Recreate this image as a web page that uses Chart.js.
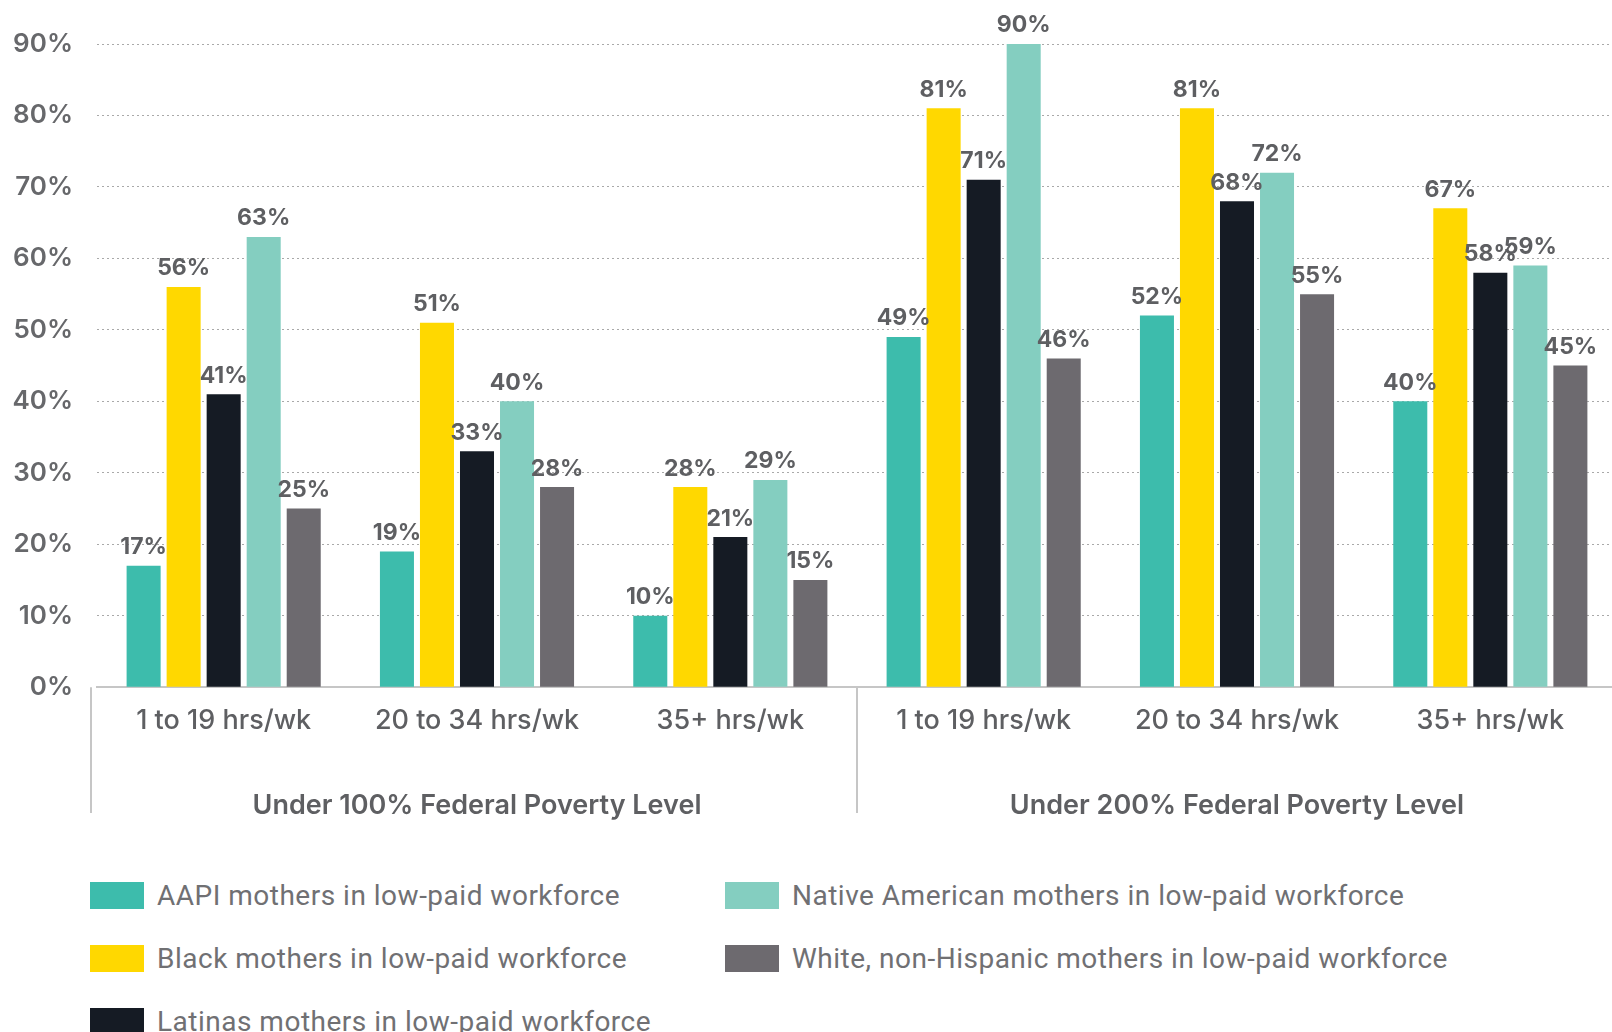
<!DOCTYPE html>
<html lang="en">
<head>
    <meta charset="UTF-8">
    <title>Low-paid mothers by poverty level</title>
    <script src="https://cdn.jsdelivr.net/npm/chart.js"></script>
    <style>
        html, body{
            margin:0;
            padding:0;
            background:#fff;
            overflow:hidden;
        }
        #wrap{
            position:relative;
            width:1612px;
            height:1032px;
        }
        #myChart{
            position:absolute;
            left:0;
            top:0;
        }
        #legend{
            position:absolute;
            left:90px;
            top:876px;
            display:grid;
            grid-template-columns:635px 800px;
            grid-auto-flow:column;
            grid-template-rows:repeat(3, 63px);
            font-family:Roboto, sans-serif;
            font-size:28px;
            letter-spacing:0.5px;
            color:#707073;
            white-space:nowrap;
        }
        .leg_item{
            display:flex;
            align-items:center;
            height:38px;
        }
        .leg_box{
            width:54px;
            height:27px;
            margin-right:13px;
            flex:none;
        }
    </style>
</head>
<body>
<div id="wrap">
    <canvas id="myChart" width="1620" height="860"></canvas>
    <div id="legend"></div>
</div>

<script>
    // 데이터
    const hours = ['1 to 19 hrs/wk', '20 to 34 hrs/wk', '35+ hrs/wk', '1 to 19 hrs/wk', '20 to 34 hrs/wk', '35+ hrs/wk'];
    const groupLabels = ['Under 100% Federal Poverty Level', 'Under 200% Federal Poverty Level'];
    const yTicks = [0, 10, 20, 30, 40, 50, 60, 70, 80, 90];

    const seriesNames = [
        'AAPI mothers in low-paid workforce',
        'Black mothers in low-paid workforce',
        'Latinas mothers in low-paid workforce',
        'Native American mothers in low-paid workforce',
        'White, non-Hispanic mothers in low-paid workforce'
    ];
    const aapi     = [17, 19, 10, 49, 52, 40];
    const black    = [56, 51, 28, 81, 81, 67];
    const latinas  = [41, 33, 21, 71, 68, 58];
    const native   = [63, 40, 29, 90, 72, 59];
    const white    = [25, 28, 15, 46, 55, 45];

    const colors = ['#3dbcac', '#ffd800', '#151b24', '#84cec0', '#6d6a6f'];
</script>

<script>
    const textGray = '#5e5f62';

    // 막대 위 값 표시
    const valueLabels = {
        id: 'valueLabels',
        afterDatasetsDraw(chart){
            const ctx = chart.ctx;
            ctx.save();
            ctx.font = '700 23px Inter, sans-serif';
            ctx.fillStyle = textGray;
            ctx.textAlign = 'center';
            ctx.textBaseline = 'bottom';
            chart.data.datasets.forEach((ds, i) => {
                const meta = chart.getDatasetMeta(i);
                meta.data.forEach((bar, j) => {
                    ctx.fillText(ds.data[j] + '%', bar.x, bar.y - 7);
                });
            });
            ctx.restore();
        }
    };

    // 그룹 구분선
    const groupLines = {
        id: 'groupLines',
        afterDraw(chart){
            const x = chart.scales.x;
            const x2 = chart.scales.x2;
            const ctx = chart.ctx;
            const top = chart.chartArea.bottom;
            const bottom = x2.bottom - x2.options.ticks.padding - 9;
            const mid = (x.getPixelForTick(2) + x.getPixelForTick(3)) / 2;
            ctx.save();
            ctx.strokeStyle = '#c6c6c6';
            ctx.lineWidth = 2;
            [chart.chartArea.left - 6, mid].forEach(px => {
                ctx.beginPath();
                ctx.moveTo(px, top);
                ctx.lineTo(px, bottom);
                ctx.stroke();
            });
            ctx.restore();
        }
    };

    const datasets = [aapi, black, latinas, native, white].map((vals, i) => ({
        label: seriesNames[i],
        data: vals,
        backgroundColor: colors[i],
        categoryPercentage: 0.79,
        barPercentage: 0.85
    }));

    const ctx = document.getElementById('myChart').getContext('2d');
    const myChart = new Chart(ctx, {
        type: 'bar',
        data: { labels: hours, datasets: datasets },
        options: {
            responsive: false,
            animation: false,
            devicePixelRatio: 1,
            layout: { padding: { top: 44, right: 3, bottom: 2, left: 0 } },
            plugins: {
                legend: { display: false },
                tooltip: { enabled: false }
            },
            scales: {
                y: {
                    min: 0,
                    max: 90,
                    afterFit(scale){ scale.width = 97; },
                    afterBuildTicks(scale){ scale.ticks = yTicks.map(v => ({ value: v })); },
                    ticks: {
                        padding: 24,
                        color: '#67686b',
                        font: { family: 'Inter, sans-serif', size: 26, weight: '600' },
                        callback: v => v + '%'
                    },
                    grid: {
                        drawTicks: false,
                        color: c => c.tick.value === 0 ? 'rgba(0,0,0,0)' : '#a9a9a9',
                        lineWidth: 1
                    },
                    border: { display: false, dash: [2, 3] }
                },
                x: {
                    grid: { display: false, drawTicks: false },
                    border: { display: true, color: '#c6c6c6', width: 2 },
                    ticks: {
                        padding: 17,
                        color: textGray,
                        font: { family: 'Inter, sans-serif', size: 27, weight: '500' }
                    }
                },
                x2: {
                    type: 'category',
                    labels: groupLabels,
                    position: 'bottom',
                    offset: true,
                    grid: { display: false, drawTicks: false },
                    border: { display: false },
                    ticks: {
                        padding: 36,
                        color: textGray,
                        font: { family: 'Inter, sans-serif', size: 27, weight: '600' }
                    }
                }
            }
        },
        plugins: [valueLabels, groupLines]
    });

    // 범례 (세로 순서)
    const legendEl = document.getElementById('legend');
    myChart.data.datasets.forEach(ds => {
        const item = document.createElement('div');
        item.className = 'leg_item';
        item.innerHTML = '<span class="leg_box" style="background:' + ds.backgroundColor + '"></span><span>' + ds.label + '</span>';
        legendEl.appendChild(item);
    });
</script>
</body>
</html>
